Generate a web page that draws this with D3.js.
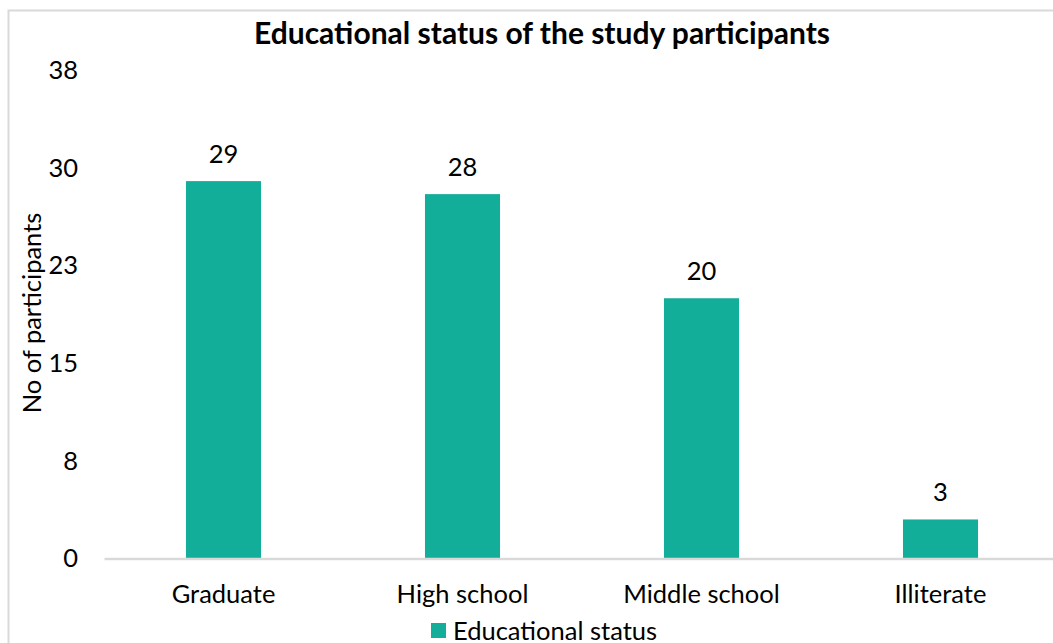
<!DOCTYPE html>
<html>
<head>
<meta charset="utf-8">
<script src="https://cdn.jsdelivr.net/npm/d3@7"></script>
<style>
  html, body { margin: 0; padding: 0; background: #fff; }
  svg { display: block; font-family: Lato, "Open Sans", sans-serif; }
</style>
</head>
<body>
<svg id="chart" width="1053" height="643"></svg>
<script>
// Participants by education level
const categories = ["Graduate", "High school", "Middle school", "Illiterate"];
const participants = [29, 28, 20, 3];
const yTicks = [0, 7.5, 15, 22.5, 30, 37.5];
const seriesName = "Educational status";
const chartTitle = "Educational status of the study participants";
const yTitle = "No of participants";

const barColor = "#13ae9a";
const labelSize = 25.5;
const svg = d3.select("#chart");

// Outer chart frame
svg.append("rect")
  .attr("x", 8.5).attr("y", 10.5)
  .attr("width", 1100).attr("height", 700)
  .attr("fill", "#fff")
  .attr("stroke", "#d9d9d9").attr("stroke-width", 2);

const plot = { left: 104, right: 1060, top: 70.5, bottom: 558.5 };

const x = d3.scaleBand()
  .domain(categories)
  .range([plot.left, plot.right])
  .paddingInner(0.686)
  .paddingOuter(0.343);

const y = d3.scaleLinear()
  .domain([0, 37.5])
  .range([plot.bottom, plot.top]);

// Bars
svg.append("g").selectAll("rect")
  .data(categories)
  .join("rect")
  .attr("x", d => x(d))
  .attr("width", x.bandwidth())
  .attr("y", (d, i) => y(participants[i]))
  .attr("height", (d, i) => y(0) - y(participants[i]))
  .attr("fill", barColor);

// Value labels
svg.append("g").selectAll("text")
  .data(categories)
  .join("text")
  .attr("x", d => x(d) + x.bandwidth() / 2)
  .attr("y", (d, i) => y(participants[i]) - 18)
  .attr("text-anchor", "middle")
  .attr("font-size", labelSize)
  .attr("fill", "#000")
  .text((d, i) => participants[i]);

// Y axis (labels only, rounded like the spreadsheet format)
const yAxis = d3.axisLeft(y)
  .tickValues(yTicks)
  .tickSize(0)
  .tickPadding(0)
  .tickFormat(d => Math.round(d));
const gy = svg.append("g")
  .attr("transform", `translate(78,0)`)
  .call(yAxis);
gy.select(".domain").remove();
gy.selectAll("text")
  .attr("font-size", labelSize)
  .attr("fill", "#000")
  .attr("font-family", "Lato, 'Open Sans', sans-serif");

// X axis
const xAxis = d3.axisBottom(x).tickSize(0).tickPadding(0);
const gx = svg.append("g")
  .attr("transform", `translate(0,${plot.bottom})`)
  .call(xAxis);
gx.select(".domain")
  .attr("stroke", "#d9d9d9")
  .attr("stroke-width", 2.5);
gx.selectAll("text")
  .attr("dy", null)
  .attr("y", 44)
  .attr("font-size", labelSize)
  .attr("fill", "#000")
  .attr("font-family", "Lato, 'Open Sans', sans-serif");

// Title
svg.append("text")
  .attr("x", 542).attr("y", 44)
  .attr("text-anchor", "middle")
  .attr("font-size", 30)
  .attr("font-weight", "bold")
  .attr("fill", "#000")
  .text(chartTitle);

// Y axis title
svg.append("text")
  .attr("transform", "translate(41,313) rotate(-90)")
  .attr("text-anchor", "middle")
  .attr("font-size", labelSize)
  .attr("fill", "#000")
  .text(yTitle);

// Legend
const legend = svg.append("g");
legend.append("rect")
  .attr("x", 431).attr("y", 623)
  .attr("width", 15).attr("height", 15)
  .attr("fill", barColor);
legend.append("text")
  .attr("x", 453).attr("y", 640)
  .attr("font-size", labelSize)
  .attr("fill", "#000")
  .text(seriesName);
</script>
</body>
</html>
